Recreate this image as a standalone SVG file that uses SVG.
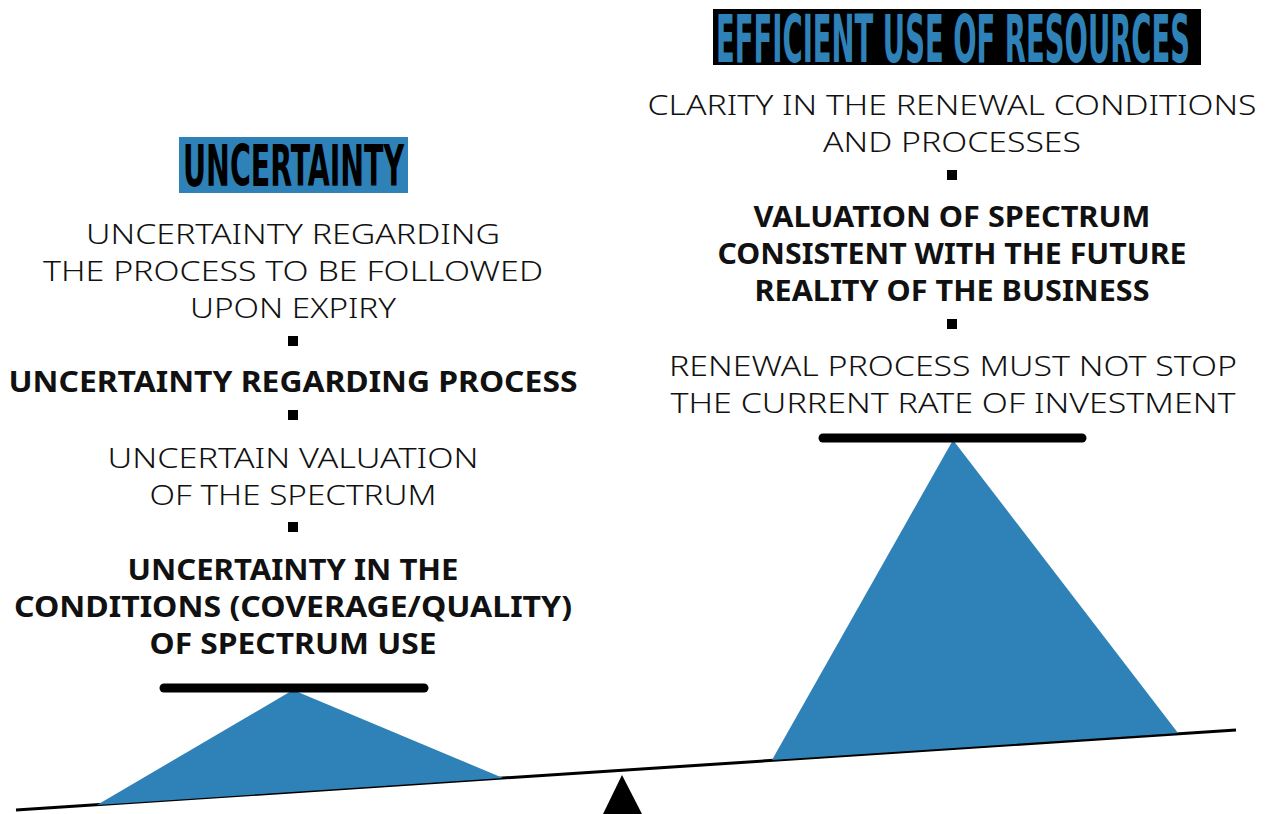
<svg xmlns="http://www.w3.org/2000/svg" width="1269" height="814" viewBox="0 0 1269 814">
<style>
.t{font-family:"Noto Sans","DejaVu Sans",sans-serif;font-size:28px;fill:#111;text-anchor:middle}
.l{font-weight:300}
.b{font-weight:700}
.h{font-family:"DejaVu Sans Condensed","DejaVu Sans",sans-serif;font-weight:700;text-anchor:start}
.bar{stroke:#000;stroke-width:9;stroke-linecap:round}
.blue{fill:#2e82b7}
</style>
<rect width="1269" height="814" fill="#fff"/>
<g id="beam">
<line x1="16" y1="810" x2="1236" y2="730" stroke="#000" stroke-width="3"/>
<polygon points="622,775 603,814 642,814" fill="#000"/>
</g>
<g id="left-weight">
<polygon class="blue" points="293,690 97,805 503,778"/>
<line class="bar" x1="164" y1="688" x2="424" y2="688"/>
</g>
<g id="right-weight">
<polygon class="blue" points="953,440 772,760 1178,733"/>
<line class="bar" x1="823" y1="438" x2="1082" y2="438"/>
</g>
<g id="title-uncertainty">
<rect x="179" y="137" width="229" height="56" fill="#2e82b7"/>
<text class="h" transform="translate(183,186) scale(0.55,1)" x="0" y="0" font-size="57" fill="#000" textLength="402" lengthAdjust="spacingAndGlyphs">UNCERTAINTY</text>
</g>
<g id="title-efficient">
<rect x="713" y="9" width="488" height="56" fill="#000"/>
<text class="h" transform="translate(716,62) scale(0.5,1)" x="0" y="0" font-size="65" fill="#2e82b7" textLength="948" lengthAdjust="spacingAndGlyphs">EFFICIENT USE OF RESOURCES</text>
</g>
<g id="left-items">
<text class="t l" x="293" y="244" textLength="414" lengthAdjust="spacingAndGlyphs">UNCERTAINTY REGARDING</text>
<text class="t l" x="293" y="281" textLength="500" lengthAdjust="spacingAndGlyphs">THE PROCESS TO BE FOLLOWED</text>
<text class="t l" x="293" y="318" textLength="206" lengthAdjust="spacingAndGlyphs">UPON EXPIRY</text>
<rect x="288" y="336" width="10" height="10" fill="#000"/>
<text class="t b" x="293" y="392" textLength="569" lengthAdjust="spacingAndGlyphs">UNCERTAINTY REGARDING PROCESS</text>
<rect x="288" y="410" width="10" height="10" fill="#000"/>
<text class="t l" x="293" y="468" textLength="371" lengthAdjust="spacingAndGlyphs">UNCERTAIN VALUATION</text>
<text class="t l" x="293" y="505" textLength="287" lengthAdjust="spacingAndGlyphs">OF THE SPECTRUM</text>
<rect x="288" y="522" width="10" height="10" fill="#000"/>
<text class="t b" x="293" y="580" textLength="331" lengthAdjust="spacingAndGlyphs">UNCERTAINTY IN THE</text>
<text class="t b" x="293" y="617" textLength="558" lengthAdjust="spacingAndGlyphs">CONDITIONS (COVERAGE/QUALITY)</text>
<text class="t b" x="293" y="654" textLength="287" lengthAdjust="spacingAndGlyphs">OF SPECTRUM USE</text>
</g>
<g id="right-items">
<text class="t l" x="952" y="115" textLength="609" lengthAdjust="spacingAndGlyphs">CLARITY IN THE RENEWAL CONDITIONS</text>
<text class="t l" x="952" y="152" textLength="258" lengthAdjust="spacingAndGlyphs">AND PROCESSES</text>
<rect x="947" y="170" width="10" height="10" fill="#000"/>
<text class="t b" x="952" y="227" textLength="397" lengthAdjust="spacingAndGlyphs">VALUATION OF SPECTRUM</text>
<text class="t b" x="952" y="264" textLength="469" lengthAdjust="spacingAndGlyphs">CONSISTENT WITH THE FUTURE</text>
<text class="t b" x="952" y="301" textLength="395" lengthAdjust="spacingAndGlyphs">REALITY OF THE BUSINESS</text>
<rect x="947" y="319" width="10" height="10" fill="#000"/>
<text class="t l" x="953" y="376" textLength="568" lengthAdjust="spacingAndGlyphs">RENEWAL PROCESS MUST NOT STOP</text>
<text class="t l" x="953" y="413" textLength="565" lengthAdjust="spacingAndGlyphs">THE CURRENT RATE OF INVESTMENT</text>
</g>
</svg>
